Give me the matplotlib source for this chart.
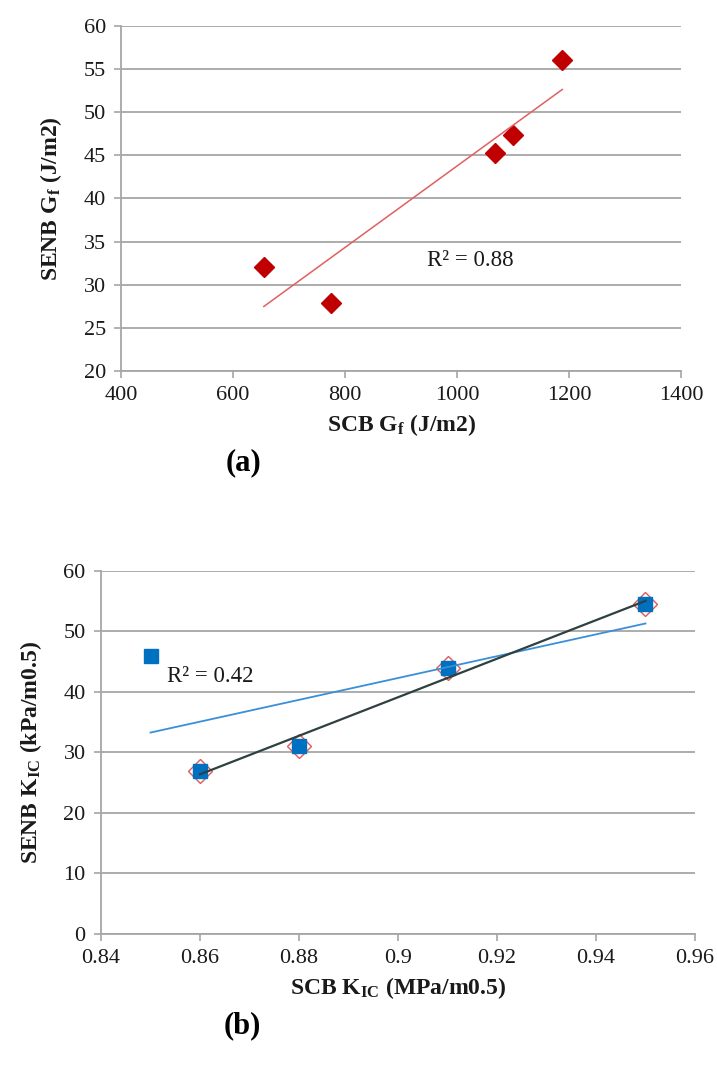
import numpy as np
import matplotlib
matplotlib.use("Agg")
import matplotlib.pyplot as plt

# (a) fracture energy, SCB vs SENB
scb_gf = [655, 775, 1068, 1100, 1188]
senb_gf = [32.1, 27.9, 45.3, 47.3, 56.1]

# (b) fracture toughness
scb_kic = [0.85, 0.86, 0.88, 0.91, 0.95]
senb_kic = [46.0, 27.0, 31.0, 44.0, 54.5]

gf_xticks = [400, 600, 800, 1000, 1200, 1400]
gf_yticks = [20, 25, 30, 35, 40, 45, 50, 55, 60]
kic_xticks = [0.84, 0.86, 0.88, 0.9, 0.92, 0.94, 0.96]
kic_xticklabels = ["0.84", "0.86", "0.88", "0.9", "0.92", "0.94", "0.96"]
kic_yticks = [0, 10, 20, 30, 40, 50, 60]

plt.rcParams["font.family"] = ["Liberation Serif", "DejaVu Serif"]
plt.rcParams["mathtext.fontset"] = "custom"
plt.rcParams["mathtext.bf"] = "Liberation Serif:bold"
plt.rcParams["mathtext.rm"] = "Liberation Serif:bold"
plt.rcParams["mathtext.default"] = "bf"

GRID = "#a6a6a6"
TXT = "#1a1a1a"
TICK_FS = 16
LABEL_FS = 17


def style_axes(ax):
    for s in ["top", "right"]:
        ax.spines[s].set_visible(False)
    for s in ["left", "bottom"]:
        ax.spines[s].set_color(GRID)
        ax.spines[s].set_linewidth(1.3)
    ax.yaxis.grid(True, color=GRID, linewidth=1.3)
    ax.set_axisbelow(True)
    ax.tick_params(axis="both", direction="out", length=5, width=1.2,
                   color=GRID, labelsize=TICK_FS, labelcolor=TXT, pad=6)


def r2(x, y):
    return np.corrcoef(x, y)[0, 1] ** 2


fig = plt.figure(figsize=(7.17, 10.68), dpi=100)

# ---- (a)
ax1 = fig.add_axes([0.1688, 0.6527, 0.781, 0.3230])
style_axes(ax1)
ax1.plot(scb_gf, senb_gf, linestyle="none", marker="D", ms=10.5,
         color="#c00000", zorder=3)
k, b = np.polyfit(scb_gf, senb_gf, 1)
xs = np.array([min(scb_gf), max(scb_gf)])
ax1.plot(xs, k * xs + b, color="#e06060", lw=1.1, zorder=4)
ax1.text(946, 32.8, "R² = %.2f" % r2(scb_gf, senb_gf), fontsize=16.5,
         color=TXT, va="center")
ax1.set_xlim(400, 1400)
ax1.set_ylim(20, 60)
ax1.set_xticks(gf_xticks)
ax1.set_yticks(gf_yticks)
ax1.set_xlabel("SCB G$_f$ (J/m2)", fontsize=LABEL_FS, fontweight="bold",
               color=TXT, labelpad=5)
ax1.set_ylabel("SENB G$_f$ (J/m2)", fontsize=LABEL_FS, fontweight="bold",
               color=TXT, labelpad=14)
fig.text(0.339, 0.567, "(a)", fontsize=22, fontweight="bold",
         ha="center", va="center", color="black")

# ---- (b)
ax2 = fig.add_axes([0.1409, 0.1255, 0.8284, 0.3399])
style_axes(ax2)
ax2.plot(scb_kic[1:], senb_kic[1:], linestyle="none", marker="D", ms=12,
         markerfacecolor="none", markeredgecolor="#e05a5a", mew=1.0, zorder=3)
ax2.plot(scb_kic, senb_kic, linestyle="none", marker="s", ms=10,
         color="#0070c0", zorder=4)
kb, bb = np.polyfit(scb_kic, senb_kic, 1)
xs = np.array([min(scb_kic), max(scb_kic)])
ax2.plot(xs, kb * xs + bb, color="#3a8fd8", lw=1.3, zorder=5)
kk, bk = np.polyfit(scb_kic[1:], senb_kic[1:], 1)
xs = np.array([min(scb_kic[1:]), max(scb_kic[1:])])
ax2.plot(xs, kk * xs + bk, color="#2e4040", lw=1.6, zorder=6)
ax2.text(0.8533, 42.5, "R² = %.2f" % r2(scb_kic, senb_kic), fontsize=16.5,
         color=TXT, va="center")
ax2.set_xlim(0.84, 0.96)
ax2.set_ylim(0, 60)
ax2.set_xticks(kic_xticks)
ax2.set_xticklabels(kic_xticklabels)
ax2.set_yticks(kic_yticks)
ax2.set_xlabel("SCB K$_{IC}$ (MPa/m0.5)", fontsize=LABEL_FS, fontweight="bold",
               color=TXT, labelpad=5)
ax2.set_ylabel("SENB K$_{IC}$ (kPa/m0.5)", fontsize=LABEL_FS, fontweight="bold",
               color=TXT, labelpad=14)
fig.text(0.338, 0.040, "(b)", fontsize=22, fontweight="bold",
         ha="center", va="center", color="black")

fig.savefig("out.png", dpi=100, facecolor="white")
